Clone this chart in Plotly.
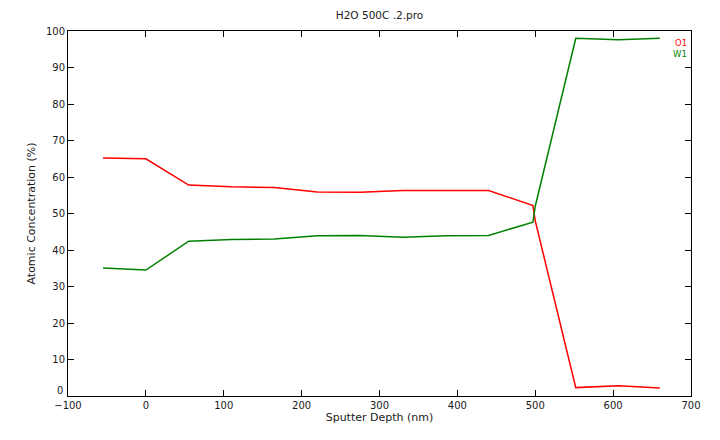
import plotly.graph_objects as go

depth = [-55, 0, 55, 110, 165, 220, 275, 330, 385, 440, 497, 500, 552, 607, 660]
o_conc = [65.2, 65.0, 57.8, 57.3, 57.1, 55.9, 55.8, 56.3, 56.3, 56.3, 52.2, 48.0, 2.3, 2.8, 2.2]
w_conc = [35.1, 34.5, 42.4, 42.9, 43.0, 43.9, 44.0, 43.5, 43.9, 44.0, 47.6, 52.0, 98.0, 97.6, 98.0]
series_names = ["O1", "W1"]
series_colors = ["#ff0000", "#008000"]
x_ticks = [-100, 0, 100, 200, 300, 400, 500, 600, 700]
y_ticks = [0, 10, 20, 30, 40, 50, 60, 70, 80, 90, 100]

font_family = "DejaVu Sans, Verdana, sans-serif"
txt = "#1a1a1a"

fig = go.Figure()
for name, vals, col in zip(series_names, [o_conc, w_conc], series_colors):
    fig.add_trace(go.Scatter(x=depth, y=vals, mode="lines", name=name,
                             line=dict(color=col, width=1.5), showlegend=False))

for i, (name, col) in enumerate(zip(series_names, series_colors)):
    fig.add_annotation(x=0.997, y=0.968 - i * 0.032, xref="paper", yref="paper",
                       text=name, showarrow=False, xanchor="right", yanchor="middle",
                       font=dict(color=col, size=8.5, family=font_family))

# the y "0" label sits a little above its tick (as in the reference)
y_text = ["" if v == 0 else str(v) for v in y_ticks]
fig.add_annotation(x=0, y=y_ticks[0], xref="paper", yref="y", text=str(y_ticks[0]),
                   showarrow=False, xanchor="right", yanchor="middle", xshift=-3, yshift=6,
                   font=dict(size=10, color=txt, family=font_family))

axis_common = dict(showline=True, linecolor="black", linewidth=1, mirror="ticks",
                   ticks="inside", ticklen=6, tickcolor="black", tickwidth=1,
                   showgrid=False, zeroline=False,
                   tickfont=dict(size=10, color=txt, family=font_family))

fig.update_xaxes(range=[-100, 700], tickvals=x_ticks,
                 title=dict(text="Sputter Depth (nm)", font=dict(size=11, color=txt, family=font_family), standoff=2),
                 **axis_common)
fig.update_yaxes(range=[0, 100], tickvals=y_ticks, ticktext=y_text,
                 title=dict(text="Atomic Concentration (%)", font=dict(size=11, color=txt, family=font_family), standoff=8),
                 **axis_common)

# page body has an 8px margin: the figure is sized so the page fits the
# 720x440 window exactly; the plot frame spans x 68..701, y 31..404
fig.update_layout(
    width=704, height=424,
    margin=dict(l=60, r=11, t=23, b=28),
    paper_bgcolor="white", plot_bgcolor="white",
    title=dict(text="H2O 500C .2.pro", x=0.5, xref="paper", y=0.983, yref="container",
               yanchor="middle", font=dict(size=10.5, color=txt, family=font_family)),
)

fig.write_html("out.html")
